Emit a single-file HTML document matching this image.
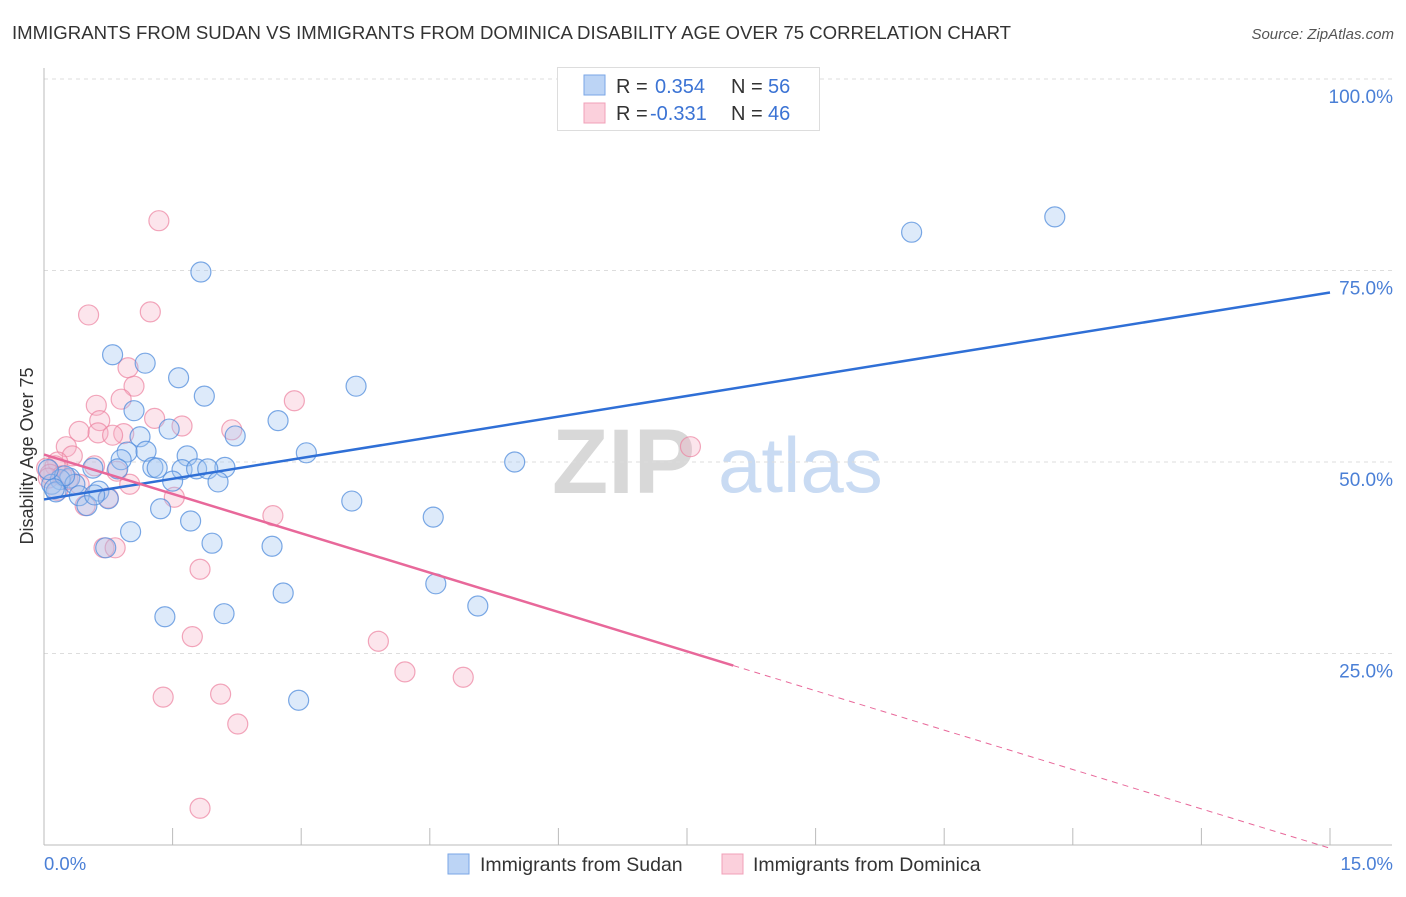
<!DOCTYPE html>
<html><head><meta charset="utf-8"><style>
body{margin:0;background:#fff;font-family:"Liberation Sans",sans-serif;}
svg text{font-family:"Liberation Sans",sans-serif;}
</style></head><body>
<svg id="chart" width="1406" height="892" viewBox="0 0 1406 892" xmlns="http://www.w3.org/2000/svg">
<text x="12" y="39" font-size="18.6" fill="#333">IMMIGRANTS FROM SUDAN VS IMMIGRANTS FROM DOMINICA DISABILITY AGE OVER 75 CORRELATION CHART</text>
<text x="1394" y="39" font-size="15" fill="#555" text-anchor="end" font-style="italic">Source: ZipAtlas.com</text>
<g>
<text x="552" y="493" font-size="92" fill="#d8d8d8" font-family="Liberation Serif" font-weight="bold">ZIP</text>
<text x="718" y="492" font-size="78" fill="#c9dbf3">atlas</text>
</g>
<g id="grid"></g>
<line x1="44" y1="68" x2="44" y2="845" stroke="#bbb" stroke-width="1"/>
<line x1="44" y1="845" x2="1392" y2="845" stroke="#bbb" stroke-width="1"/>
<g id="ticks"></g>
<text transform="translate(33,456) rotate(-90)" font-size="18" fill="#333" text-anchor="middle">Disability Age Over 75</text>
<text x="44" y="870" font-size="18.5" fill="#4a7fd6">0.0%</text>
<text x="1393" y="870" font-size="18.5" fill="#4a7fd6" text-anchor="end">15.0%</text>
<g id="pinkPts"></g>
<g id="bluePts"></g>
<g id="lines"></g>
<g>
<rect x="557.5" y="67.5" width="262" height="63" fill="#fff" stroke="#ddd"/>
<rect x="584" y="75" width="21" height="20" fill="#bcd4f5" stroke="#7aa6e6"/>
<text x="616" y="93" font-size="20" fill="#333">R = </text><text x="655" y="93" font-size="20" fill="#3b73d4">0.354</text>
<text x="731" y="93" font-size="20" fill="#333">N = </text><text x="768" y="93" font-size="20" fill="#3b73d4">56</text>
<rect x="584" y="103" width="21" height="20" fill="#fbd0dc" stroke="#f0a0b8"/>
<text x="616" y="120" font-size="20" fill="#333">R = </text><text x="650" y="120" font-size="20" fill="#3b73d4">-0.331</text>
<text x="731" y="120" font-size="20" fill="#333">N = </text><text x="768" y="120" font-size="20" fill="#3b73d4">46</text>
</g>
<g>
<rect x="448" y="854" width="21" height="20" fill="#bcd4f5" stroke="#7aa6e6"/>
<text x="480" y="871" font-size="19.5" fill="#333">Immigrants from Sudan</text>
<rect x="722" y="854" width="21" height="20" fill="#fbd0dc" stroke="#f0a0b8"/>
<text x="753" y="871" font-size="19.5" fill="#333">Immigrants from Dominica</text>
</g>
</svg>
<script>
const yTicks=[25,50,75,100];
const yTickLabels=["25.0%","50.0%","75.0%","100.0%"];
const xTicks=[1.5,3,4.5,6,7.5,9,10.5,12,13.5,15];
const sudanX=[11.79,10.12,1.83,0.80,1.18,1.57,3.64,1.05,1.87,2.73,1.46,2.23,1.12,3.06,0.97,1.19,1.67,0.90,5.49,1.27,1.32,0.57,0.86,1.61,1.78,2.11,1.91,1.50,2.03,0.30,0.19,0.09,0.36,0.14,0.64,0.41,0.75,3.59,0.50,1.36,1.71,4.54,1.01,1.96,2.66,0.72,4.57,2.79,5.06,1.41,2.10,2.97,0.24,0.59,0.05,0.12];
const sudanY=[82.0,80.0,74.8,64.0,62.9,61.0,59.9,56.7,58.6,55.4,54.3,53.4,53.3,51.2,51.3,51.4,50.8,50.3,50.0,49.3,49.2,49.2,49.1,49.0,49.1,49.3,49.1,47.5,47.4,47.9,47.7,47.1,47.1,46.1,46.2,45.6,45.2,44.9,44.3,43.9,42.3,42.8,40.9,39.4,39.0,38.8,34.1,32.9,31.2,29.8,30.2,18.9,48.2,45.7,49.0,46.5];
const domX=[1.34,0.52,1.24,0.98,1.05,0.90,0.61,1.29,1.61,0.65,2.92,2.19,0.93,0.63,0.41,0.80,0.26,0.33,7.54,0.16,0.13,0.03,0.59,0.07,0.21,0.28,0.41,0.16,0.85,1.00,0.48,0.75,0.70,0.83,1.52,2.67,1.82,1.73,3.90,4.21,4.89,1.39,2.06,2.26,1.82,0.05];
const domY=[81.5,69.2,69.6,62.3,59.9,58.2,57.4,55.7,54.7,55.4,58.0,54.2,53.7,53.8,54.0,53.5,52.0,50.8,52.0,50.0,49.5,49.2,49.5,48.4,48.2,47.7,47.1,46.3,48.8,47.1,44.3,45.3,38.8,38.8,45.4,43.0,36.0,27.2,26.6,22.6,21.9,19.3,19.7,15.8,4.8,47.9];
const NS="http://www.w3.org/2000/svg";
const X=v=>44+v*(1330-44)/15;
const Y=v=>845-v*(845-79)/100;
function mk(tag,attrs,parent){const e=document.createElementNS(NS,tag);for(const k in attrs)e.setAttribute(k,attrs[k]);parent.appendChild(e);return e;}
const grid=document.getElementById('grid');
yTicks.forEach((t,i)=>{
  const l=mk('line',{x1:44,x2:1392,y1:Y(t),y2:Y(t),stroke:'#ddd','stroke-dasharray':'4,4'},grid);
  
  
  const tx=mk('text',{x:1393,y:Y(t)+24,'font-size':19,fill:'#4a7fd6','text-anchor':'end'},grid);
  tx.textContent=yTickLabels[i];
  
  
});
const ticks=document.getElementById('ticks');
xTicks.forEach(t=>{
  const l=mk('line',{x1:X(t),x2:X(t),y1:828,y2:845,stroke:'#bbb'},ticks);
  
  
});
function pts(xs,ys,g,fill,stroke,name){
  xs.forEach((x,i)=>{
    const c=mk('circle',{cx:X(x),cy:Y(ys[i]),r:10,fill:fill,stroke:stroke,'stroke-width':1.2},g);
    
    
  });
}
pts(domX,domY,document.getElementById('pinkPts'),'rgba(246,175,196,0.32)','rgba(236,130,160,0.7)','dominica-point');
pts(sudanX,sudanY,document.getElementById('bluePts'),'rgba(160,198,242,0.36)','rgba(80,140,220,0.75)','sudan-point');
function reg(xs,ys){const n=xs.length;let mx=0,my=0;for(let i=0;i<n;i++){mx+=xs[i];my+=ys[i];}mx/=n;my/=n;let sxy=0,sxx=0;for(let i=0;i<n;i++){sxy+=(xs[i]-mx)*(ys[i]-my);sxx+=(xs[i]-mx)**2;}const b=sxy/sxx;return [my-b*mx,b];}
const lines=document.getElementById('lines');
const [ba,bb]=reg(sudanX,sudanY);
const bl=mk('line',{x1:X(0),y1:Y(ba),x2:X(15),y2:Y(ba+bb*15),stroke:'#2f6fd6','stroke-width':2.5},lines);


const [pa,pb]=reg(domX,domY);
const xEnd=Math.max(...domX)+0.5;
const pl=mk('line',{x1:X(0),y1:Y(pa),x2:X(xEnd),y2:Y(pa+pb*xEnd),stroke:'#e8689a','stroke-width':2.5},lines);


const pd=mk('line',{x1:X(xEnd),y1:Y(pa+pb*xEnd),x2:X(15),y2:Y(pa+pb*15),stroke:'#e8689a','stroke-width':1,'stroke-dasharray':'6,5'},lines);


</script>
</body></html>
